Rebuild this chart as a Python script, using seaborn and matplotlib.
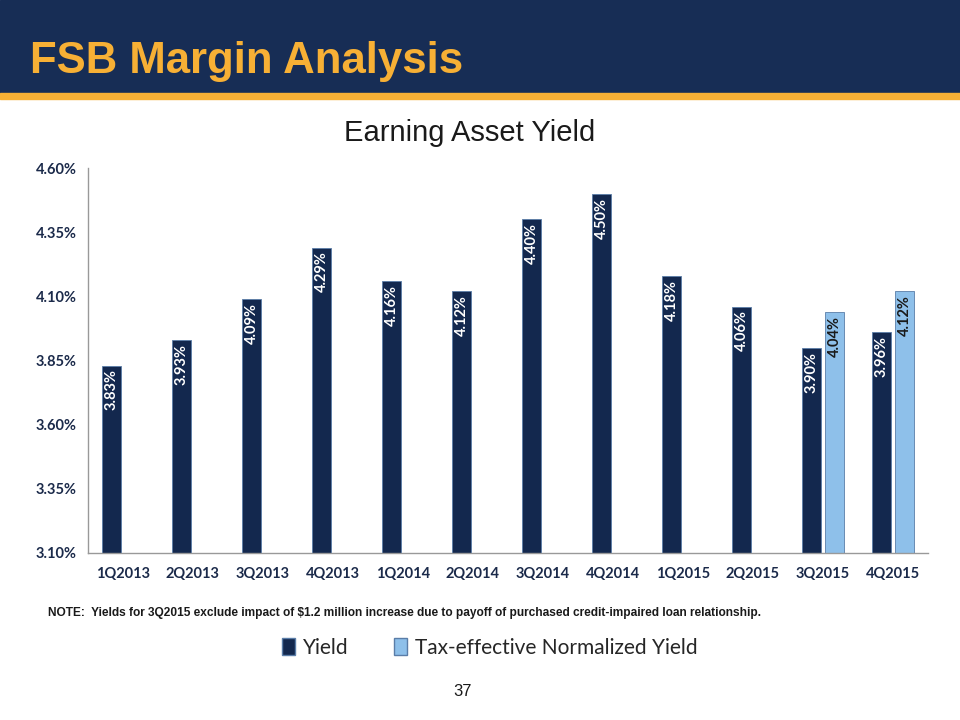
import pandas as pd
import matplotlib.pyplot as plt
import matplotlib.patches as mpatches
import seaborn as sns

quarters = ["1Q2013", "2Q2013", "3Q2013", "4Q2013", "1Q2014", "2Q2014",
            "3Q2014", "4Q2014", "1Q2015", "2Q2015", "3Q2015", "4Q2015"]
yield_vals = [3.83, 3.93, 4.09, 4.29, 4.16, 4.12, 4.40, 4.50, 4.18, 4.06, 3.90, 3.96]
tax_vals = [None] * 10 + [4.04, 4.12]
series_names = ["Yield", "Tax-effective Normalized Yield"]
y_ticks = [3.10, 3.35, 3.60, 3.85, 4.10, 4.35, 4.60]

NAVY = "#13284E"
LIGHT = "#8EC0EA"
HEADER = "#172D55"
ORANGE = "#F7B035"
TEXT = "#1B2A4A"

df = pd.DataFrame({
    "quarter": quarters * 2,
    "value": yield_vals + tax_vals,
    "series": [series_names[0]] * len(quarters) + [series_names[1]] * len(quarters),
})
df["value"] = pd.to_numeric(df["value"])

sns.set_theme(style="white")
plt.rcParams["font.family"] = ["Liberation Sans", "DejaVu Sans"]

fig = plt.figure(figsize=(9.6, 7.2), dpi=100)

# header band
fig.patches.append(mpatches.Rectangle((0, 1 - 93 / 720), 1, 93 / 720,
                                      transform=fig.transFigure, color=HEADER, zorder=0))
fig.patches.append(mpatches.Rectangle((0, 1 - 99 / 720), 1, 6 / 720,
                                      transform=fig.transFigure, color=ORANGE, zorder=0))
fig.text(30 / 960, 1 - 61 / 720, "FSB Margin Analysis", color=ORANGE, fontsize=31.5,
         fontweight="bold", va="center", ha="left")

ax = fig.add_axes([88 / 960, 1 - 553 / 720, 840 / 960, 385 / 720])
sns.barplot(data=df, x="quarter", y="value", hue="series", order=quarters,
            hue_order=series_names, palette=[NAVY, LIGHT], saturation=1,
            width=0.66, gap=0.17, edgecolor="#5A7DA8", linewidth=0.6, ax=ax,
            legend=False)

ax.set_ylim(3.10, 4.60)
ax.set_xlim(-0.5, 11.5)
ax.set_yticks(y_ticks)
ax.set_yticklabels([f"{v:.2f}%" for v in y_ticks])
ax.set_xlabel("")
ax.set_ylabel("")
for lab in ax.get_xticklabels() + ax.get_yticklabels():
    lab.set_fontfamily(["Lato", "DejaVu Sans"])
    lab.set_fontweight("bold")
    lab.set_fontsize(10.5)
    lab.set_color(TEXT)
ax.tick_params(axis="y", length=4, color="#888888", pad=4)
ax.tick_params(axis="x", length=0, pad=10)
for s in ["top", "right"]:
    ax.spines[s].set_visible(False)
for s in ["left", "bottom"]:
    ax.spines[s].set_color("#999999")
    ax.spines[s].set_linewidth(1)

# value labels inside the bars
for container, color in zip(ax.containers, ["white", "#1A1A1A"]):
    for bar in container:
        h = bar.get_height()
        if pd.isna(h) or h == 0:
            continue
        ax.text(bar.get_x() + bar.get_width() / 2, h - 0.015, f"{h:.2f}%",
                rotation=90, ha="center", va="top", color=color, fontsize=10.5,
                fontweight="bold", family=["Lato", "DejaVu Sans"])

fig.text(470 / 960, 1 - 133 / 720, "Earning Asset Yield", fontsize=21,
         ha="center", va="center", color="#1A1A1A")

fig.text(48 / 960, 1 - 613 / 720,
         "NOTE:  Yields for 3Q2015 exclude impact of $1.2 million increase due to payoff "
         "of purchased credit-impaired loan relationship.",
         fontsize=8.6, fontweight="bold", ha="left", va="center", color="#1A1A1A")

handles = [mpatches.Patch(facecolor=NAVY, edgecolor="#5A7DA8", label=series_names[0]),
           mpatches.Patch(facecolor=LIGHT, edgecolor="#5A7DA8", label=series_names[1])]
fig.legend(handles=handles, loc="center", bbox_to_anchor=(490 / 960, 1 - 648 / 720),
           ncol=2, frameon=False, handlelength=0.6, handleheight=0.9,
           columnspacing=2.2, handletextpad=0.4,
           prop={"family": ["Lato", "DejaVu Sans"], "size": 15})

fig.text(463 / 960, 1 - 692 / 720, "37", fontsize=12, ha="center", va="center",
         color="#1A1A1A")

fig.savefig("out.png", dpi=100)
